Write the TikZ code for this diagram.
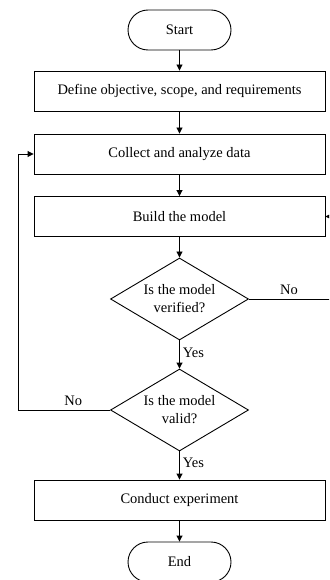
\documentclass[tikz,border=0pt]{standalone}
\usepackage{fontspec}
\setmainfont{Liberation Serif}
\usetikzlibrary{shapes.geometric,arrows.meta}
\begin{document}
\begin{tikzpicture}[x=1pt,y=-1pt,
  font=\fontsize{14.5}{18}\selectfont,
  line width=0.9pt,
  term/.style={draw,rectangle,rounded corners=20pt,minimum width=103pt,minimum height=40pt,inner sep=0pt},
  proc/.style={draw,rectangle,minimum width=291pt,minimum height=40pt,inner sep=0pt},
  dec/.style={draw,diamond,aspect=1.68,minimum width=138pt,minimum height=82pt,inner sep=0pt,align=center},
  arr/.style={-{Triangle[length=6pt,width=6pt]}},
  lab/.style={inner sep=0pt}]
\clip (0,0) rectangle (329,580);
\useasboundingbox (0,0) rectangle (329,580);
\node[term] (start) at (179.5,30) {Start};
\node[proc] (def) at (179.5,91) {Define objective, scope, and requirements};
\node[proc] (col) at (179.5,154) {Collect and analyze data};
\node[proc] (build) at (179.5,216.5) {Build the model};
\node[dec] (ver) at (179.5,299) {Is the model\\verified?};
\node[dec] (val) at (179.5,410) {Is the model\\valid?};
\node[proc] (exp) at (179.5,500) {Conduct experiment};
\node[term] (end) at (179.5,562) {End};
\coordinate (rc) at (342,299);
\coordinate (lc) at (18,410);
\draw[arr] (start) -- (def);
\draw[arr] (def) -- (col);
\draw[arr] (col) -- (build);
\draw[arr] (build) -- (ver);
\draw[arr] (ver) -- node[lab,right=3pt,pos=0.45]{Yes} (val);
\draw[arr] (val) -- node[lab,right=3pt,pos=0.4]{Yes} (exp);
\draw[arr] (exp) -- (end);
\draw[arr] (ver.east) -- node[lab,above=4pt,pos=0.43]{No} (rc) |- (build.east);
\draw[arr] (val.west) -- node[lab,above=4pt,pos=0.4]{No} (lc) |- (col.west);
\end{tikzpicture}
\end{document}
